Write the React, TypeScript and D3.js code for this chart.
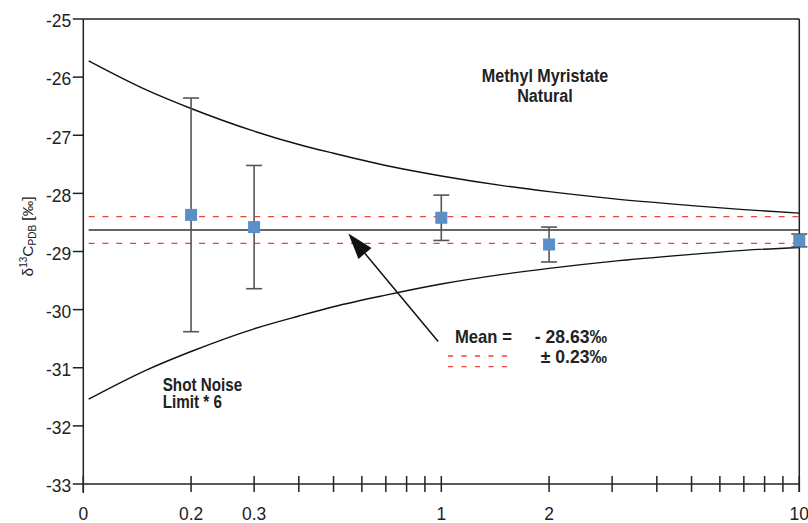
import React from "react";
import * as d3 from "d3";

// ---- data ----
const concentrations = [0.2, 0.3, 1, 2, 10];
const deltaValues = [-28.37, -28.58, -28.42, -28.88, -28.81];
const errorValues = [2.01, 1.06, 0.39, 0.3, 0.11];

const meanValue = -28.63;
const meanSD = 0.23;

const limitX = [0.1035, 0.15, 0.2, 0.3, 0.4, 0.5, 0.7, 1, 1.5, 2, 3, 5, 7, 10];
const limitUpper = [-25.72, -26.22, -26.54, -26.93, -27.16, -27.31, -27.52, -27.7, -27.87, -27.97, -28.09, -28.21, -28.28, -28.34];
const limitLower = [-31.54, -31.04, -30.72, -30.33, -30.11, -29.95, -29.75, -29.56, -29.39, -29.29, -29.17, -29.05, -28.98, -28.93];

const yTicks = [-25, -26, -27, -28, -29, -30, -31, -32, -33];
const xTicks = [0.1, 0.2, 0.3, 0.4, 0.5, 0.6, 0.7, 0.8, 0.9, 1, 2, 3, 4, 5, 6, 7, 8, 9, 10];
const xTickLabels: [number, string][] = [
  [0.1, "0"],
  [0.2, "0.2"],
  [0.3, "0.3"],
  [1, "1"],
  [2, "2"],
  [10, "10"],
];

const arrowTail = { x: 0.98, y: -30.55 };
const arrowTip = { x: 0.55, y: -28.69 };

// ---- layout ----
const W = 808;
const H = 523;
const left = 83.3;
const right = 799.3;
const top = 19;
const bottom = 484;

const FONT = "'Liberation Sans', Arial, Helvetica, sans-serif";

function CText(props: {
  x: number;
  y: number;
  sx: number;
  size: number;
  bold?: boolean;
  anchor?: string;
  children: React.ReactNode;
}) {
  return (
    <text
      transform={`translate(${props.x},${props.y}) scale(${props.sx},1)`}
      textAnchor={props.anchor || "start"}
      fontSize={props.size}
      fontWeight={props.bold ? "bold" : "normal"}
      fill="#222"
    >
      {props.children}
    </text>
  );
}

export default function App() {
  const x = d3.scaleLog().domain([0.1, 10]).range([left, right]);
  const y = d3.scaleLinear().domain([-25, -33]).range([top, bottom]);

  const line = d3
    .line<[number, number]>()
    .x((d) => x(d[0]))
    .y((d) => y(d[1]))
    .curve(d3.curveMonotoneX);

  const upperPath = line(limitX.map((v, i) => [v, limitUpper[i]] as [number, number])) || "";
  const lowerPath = line(limitX.map((v, i) => [v, limitLower[i]] as [number, number])) || "";

  const lineStart = x(limitX[0]);
  const red = "#e8453c";
  const dash = "6,7.8";

  // arrow
  const tx = x(arrowTail.x), ty = y(arrowTail.y);
  const hx = x(arrowTip.x), hy = y(arrowTip.y);
  const ang = Math.atan2(hy - ty, hx - tx);
  const headLen = 26, headHalf = 8.5;
  const bx = hx - headLen * Math.cos(ang), by = hy - headLen * Math.sin(ang);
  const px = -Math.sin(ang), py = Math.cos(ang);
  const head = `M${hx},${hy}L${bx + px * headHalf},${by + py * headHalf}L${bx - px * headHalf},${by - py * headHalf}Z`;

  const sq = 12;
  const cap = 8;

  return (
    <svg
      width={W}
      height={H}
      style={{ position: "absolute", left: 0, top: 0, background: "#fff" }}
      fontFamily={FONT}
    >
      <rect x={0} y={0} width={W} height={H} fill="#fff" />

      {/* frame */}
      <line x1={left} x2={right} y1={top} y2={top} stroke="#222" strokeWidth={1.5} />
      <line x1={right} x2={right} y1={top} y2={bottom + 8} stroke="#222" strokeWidth={1.5} />
      <line x1={left} x2={left} y1={top} y2={bottom + 9} stroke="#222" strokeWidth={1.5} />
      <line x1={left} x2={right} y1={bottom} y2={bottom} stroke="#222" strokeWidth={1.5} />

      {/* y ticks */}
      {yTicks.map((t) => (
        <g key={t}>
          <line x1={left - 10.5} x2={left} y1={y(t)} y2={y(t)} stroke="#222" strokeWidth={1.5} />
          <CText x={left - 12} y={y(t) + 8.3} sx={0.92} size={19} anchor="end">
            {t}
          </CText>
        </g>
      ))}

      {/* x ticks */}
      {xTicks.map((t) => (
        <line key={t} x1={x(t)} x2={x(t)} y1={bottom - 8} y2={bottom + 8} stroke="#222" strokeWidth={1.5} />
      ))}
      {xTickLabels.map(([v, lab]) => (
        <CText key={lab} x={x(v)} y={519.5} sx={0.92} size={19} anchor="middle">
          {lab}
        </CText>
      ))}

      {/* y axis title */}
      <text transform="translate(33,236.5) rotate(-90)" textAnchor="middle" fontSize={15.5} fill="#222">
        δ<tspan fontSize={10} dy={-6}>13</tspan>
        <tspan dy={6}>C</tspan>
        <tspan fontSize={10} dy={3}>PDB</tspan>
        <tspan dy={-3}> [‰]</tspan>
      </text>

      {/* mean and sd lines */}
      <line x1={lineStart} x2={right} y1={y(meanValue + meanSD)} y2={y(meanValue + meanSD)} stroke={red} strokeWidth={1.3} strokeDasharray={dash} />
      <line x1={lineStart} x2={right} y1={y(meanValue - meanSD)} y2={y(meanValue - meanSD)} stroke={red} strokeWidth={1.3} strokeDasharray={dash} />
      <line x1={lineStart} x2={right} y1={y(meanValue)} y2={y(meanValue)} stroke="#333" strokeWidth={1.4} />

      {/* shot noise limit curves */}
      <path d={upperPath} fill="none" stroke="#111" strokeWidth={1.4} />
      <path d={lowerPath} fill="none" stroke="#111" strokeWidth={1.4} />

      {/* error bars */}
      {concentrations.map((c, i) => {
        const cx = x(c);
        const y1 = y(deltaValues[i] + errorValues[i]);
        const y2 = y(deltaValues[i] - errorValues[i]);
        return (
          <g key={"e" + c} stroke="#555" strokeWidth={1.6}>
            <line x1={cx} x2={cx} y1={y1} y2={y2} />
            <line x1={cx - cap} x2={cx + cap} y1={y1} y2={y1} />
            <line x1={cx - cap} x2={cx + cap} y1={y2} y2={y2} />
          </g>
        );
      })}

      {/* points */}
      {concentrations.map((c, i) => (
        <rect
          key={"p" + c}
          x={x(c) - sq / 2}
          y={y(deltaValues[i]) - sq / 2}
          width={sq}
          height={sq}
          fill="#5a8fc8"
        />
      ))}

      {/* arrow */}
      <line x1={tx} y1={ty} x2={bx} y2={by} stroke="#111" strokeWidth={1.5} />
      <path d={head} fill="#111" />

      {/* annotations */}
      <CText x={545} y={81.7} sx={0.85} size={19} bold anchor="middle">
        Methyl Myristate
      </CText>
      <CText x={545} y={101.7} sx={0.85} size={19} bold anchor="middle">
        Natural
      </CText>

      <CText x={162.7} y={390.5} sx={0.87} size={17.5} bold>
        Shot Noise
      </CText>
      <CText x={162.7} y={408} sx={0.87} size={17.5} bold>
        Limit * 6
      </CText>

      <CText x={455} y={342.7} sx={0.9} size={18.5} bold>
        Mean =
      </CText>
      <CText x={607} y={342.7} sx={0.95} size={18.5} bold anchor="end">
        - 28.63‰
      </CText>
      <CText x={607} y={363.3} sx={0.95} size={18.5} bold anchor="end">
        ± 0.23‰
      </CText>
      <line x1={448} x2={507} y1={356} y2={356} stroke={red} strokeWidth={1.3} strokeDasharray="5,8.5" />
      <line x1={448} x2={507} y1={366.7} y2={366.7} stroke={red} strokeWidth={1.3} strokeDasharray="5,8.5" />
    </svg>
  );
}
